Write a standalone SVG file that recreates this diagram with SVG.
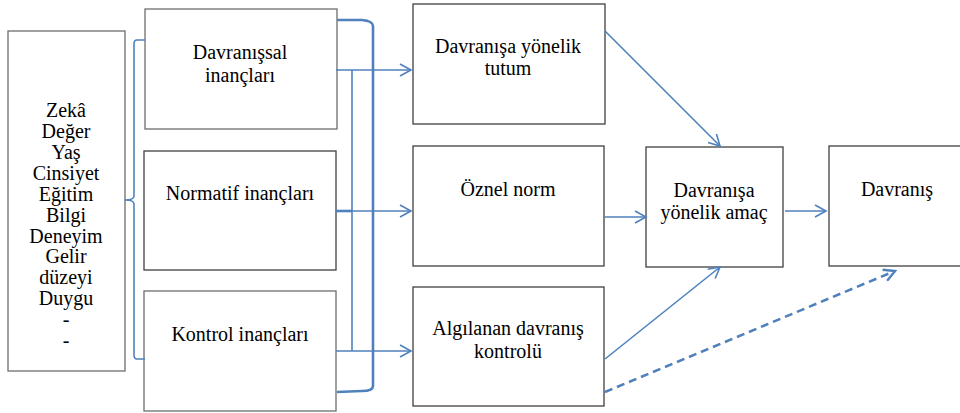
<svg xmlns="http://www.w3.org/2000/svg" width="960" height="413" viewBox="0 0 960 413">
  <style>
    .box { fill: #ffffff; stroke: #404040; stroke-width: 1.3; }
    .box-soft { fill: #ffffff; stroke: #6e6e6e; stroke-width: 1.3; }
    text { font-family: 'Liberation Serif', 'DejaVu Serif', serif; font-size: 20px; fill: #000000; text-anchor: middle; }
    .con { fill: none; stroke: #4f81bd; stroke-width: 1.6; }
    .thick { fill: none; stroke: #4f81bd; stroke-width: 2.6; }
    .dash { fill: none; stroke: #4f81bd; stroke-width: 2.6; stroke-dasharray: 8 5; }
  </style>
  <defs>
    <marker id="open" viewBox="0 0 14 14" refX="12" refY="7" markerWidth="14" markerHeight="14" markerUnits="userSpaceOnUse" orient="auto">
      <path d="M1,1 L12,7 L1,13" fill="none" stroke="#4f81bd" stroke-width="1.6"/>
    </marker>
    <marker id="openBold" viewBox="0 0 14 14" refX="12" refY="7" markerWidth="14" markerHeight="14" markerUnits="userSpaceOnUse" orient="auto">
      <path d="M1,1 L12,7 L1,13" fill="none" stroke="#4f81bd" stroke-width="2.4"/>
    </marker>
  </defs>

  <!-- background factors -->
  <g id="factors">
    <rect class="box-soft" x="8" y="31" width="117" height="340"/>
    <text x="66" y="117">Zekâ</text>
    <text x="66" y="138">Değer</text>
    <text x="66" y="159">Yaş</text>
    <text x="66" y="180">Cinsiyet</text>
    <text x="66" y="201">Eğitim</text>
    <text x="66" y="222">Bilgi</text>
    <text x="66" y="243">Deneyim</text>
    <text x="66" y="263">Gelir</text>
    <text x="66" y="284">düzeyi</text>
    <text x="66" y="305">Duygu</text>
    <text x="66" y="326">-</text>
    <text x="66" y="347">-</text>
  </g>

  <!-- belief boxes -->
  <g id="behavioral-beliefs">
    <rect class="box-soft" x="145" y="9" width="192" height="120"/>
    <text x="240" y="59">Davranışsal</text>
    <text x="240" y="82">inançları</text>
  </g>
  <g id="normative-beliefs">
    <rect class="box" x="144" y="151" width="192" height="119"/>
    <text x="240" y="200">Normatif inançları</text>
  </g>
  <g id="control-beliefs">
    <rect class="box-soft" x="144" y="291" width="192" height="120"/>
    <text x="240" y="341">Kontrol inançları</text>
  </g>

  <!-- attitude / norm / control boxes -->
  <g id="attitude">
    <rect class="box" x="413" y="4" width="192" height="120"/>
    <text x="508" y="53">Davranışa yönelik</text>
    <text x="508" y="75">tutum</text>
  </g>
  <g id="subjective-norm">
    <rect class="box" x="413" y="146" width="191" height="120"/>
    <text x="508" y="196">Öznel norm</text>
  </g>
  <g id="perceived-control">
    <rect class="box" x="413" y="287" width="191" height="119"/>
    <text x="508" y="335">Algılanan davranış</text>
    <text x="508" y="358">kontrolü</text>
  </g>

  <!-- intention and behaviour -->
  <g id="intention">
    <rect class="box" x="646" y="147" width="137" height="120"/>
    <text x="714" y="197">Davranışa</text>
    <text x="714" y="219">yönelik amaç</text>
  </g>
  <g id="behaviour">
    <rect class="box" x="829" y="146" width="140" height="120"/>
    <text x="897" y="196">Davranış</text>
  </g>

  <!-- connectors -->
  <g id="connectors">
    <!-- brace joining the factors to the belief boxes -->
    <path class="con" d="M145,40 L137,40 Q134,40 134,44 L134,196 Q134,200 125,200 Q134,200 134,204 L134,355 Q134,359 137,359 L145,359"/>
    <!-- large bracket spanning the belief column -->
    <path class="thick" d="M337,20 L362,20 Q373,21 373,26 L373,386 Q373,391 362,391 L337,392"/>
    <!-- belief to predictor links -->
    <path class="con" d="M352,70 L352,351"/>
    <path class="thick" d="M336,211 L352,211"/>
    <path class="con" d="M336,70 L411,70" marker-end="url(#open)"/>
    <path class="con" d="M352,211 L411,211" marker-end="url(#open)"/>
    <path class="con" d="M336,351 L411,351" marker-end="url(#open)"/>
    <!-- predictors to intention -->
    <path class="con" d="M605,31 L720,146" marker-end="url(#open)"/>
    <path class="con" d="M605,217 L646,217" marker-end="url(#open)"/>
    <path class="con" d="M605,359 L720,267" marker-end="url(#open)"/>
    <!-- intention to behaviour -->
    <path class="con" d="M785,211 L826,211" marker-end="url(#open)"/>
    <!-- direct control path -->
    <path class="dash" d="M605,392 L895,271" marker-end="url(#openBold)"/>
  </g>
</svg>
